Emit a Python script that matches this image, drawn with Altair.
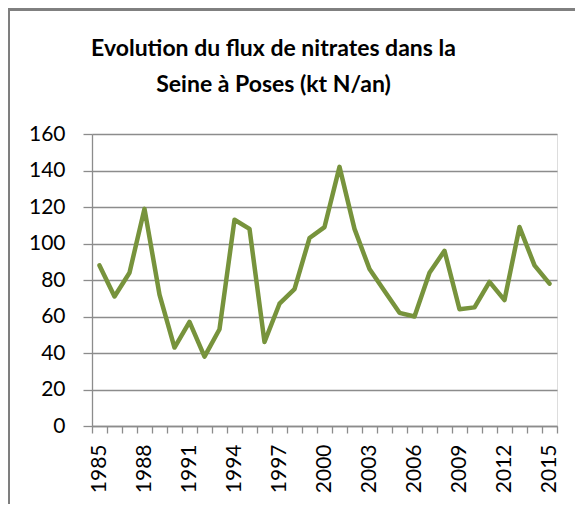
import altair as alt
import pandas as pd

years = list(range(1985, 2016))
flux = [88, 71, 84, 119, 72, 43, 57, 38, 53, 113, 108, 46, 67, 75, 103, 109,
        142, 108, 86, 74, 62, 60, 84, 96, 64, 65, 79, 69, 109, 88, 78]
y_ticks = [0, 20, 40, 60, 80, 100, 120, 140, 160]
title_lines = ["Evolution du flux de nitrates dans la", "Seine à Poses (kt N/an)"]

df = pd.DataFrame({"annee": [str(y) for y in years], "flux": flux})

GRID = "#8c8c8c"
GREEN = "#77933C"

line = alt.Chart(df).mark_line(color=GREEN, strokeWidth=4.5, strokeJoin="round", strokeCap="round").encode(
    x=alt.X("annee:O", bandPosition=0.5,
            scale=alt.Scale(paddingInner=0, paddingOuter=0),
            axis=alt.Axis(title=None, tickBand="extent", labelAngle=-90, labelAlign="right",
                          labelBaseline="middle", labelPadding=11, tickSize=7, tickColor=GRID,
                          domainColor=GRID, domainWidth=1.3, tickWidth=1.3, grid=False,
                          labelFont="Lato", labelFontSize=21, labelColor="#000000",
                          labelExpr="(toNumber(datum.value) - 1985) % 3 == 0 ? datum.value : ''")),
    y=alt.Y("flux:Q", scale=alt.Scale(domain=[0, 160], nice=False),
            axis=alt.Axis(title=None, values=y_ticks, tickSize=9, tickColor=GRID, tickWidth=1.3,
                          domainColor=GRID, domainWidth=1.3, gridColor=GRID, gridWidth=1.3,
                          labelFont="Lato", labelFontSize=21, labelColor="#000000",
                          labelPadding=18)),
)

left_border = alt.Chart(df).mark_rule(color="#7f7f7f", strokeWidth=1.5).encode(
    x=alt.value(-83.3), y=alt.value(-126), y2=alt.value(400)
)
top_border = alt.Chart(df).mark_rule(color="#7f7f7f", strokeWidth=1.5).encode(
    x=alt.value(-84), x2=alt.value(500), y=alt.value(-124.5)
)

chart = alt.layer(line, left_border, top_border).properties(
    width=465,
    height=292,
    padding={"left": 84, "top": 126, "right": 18, "bottom": 78},
    autosize=alt.AutoSizeParams(type="none"),
    title=alt.TitleParams(text=title_lines, anchor="middle", frame="group", dx=-51,
                          font="Lato", fontSize=23, fontWeight="bold", color="#000000",
                          lineHeight=36, offset=-90),
).configure_view(stroke=None).configure(background="#ffffff")

chart.save("out.html", embed_options={"renderer": "svg", "actions": False})
